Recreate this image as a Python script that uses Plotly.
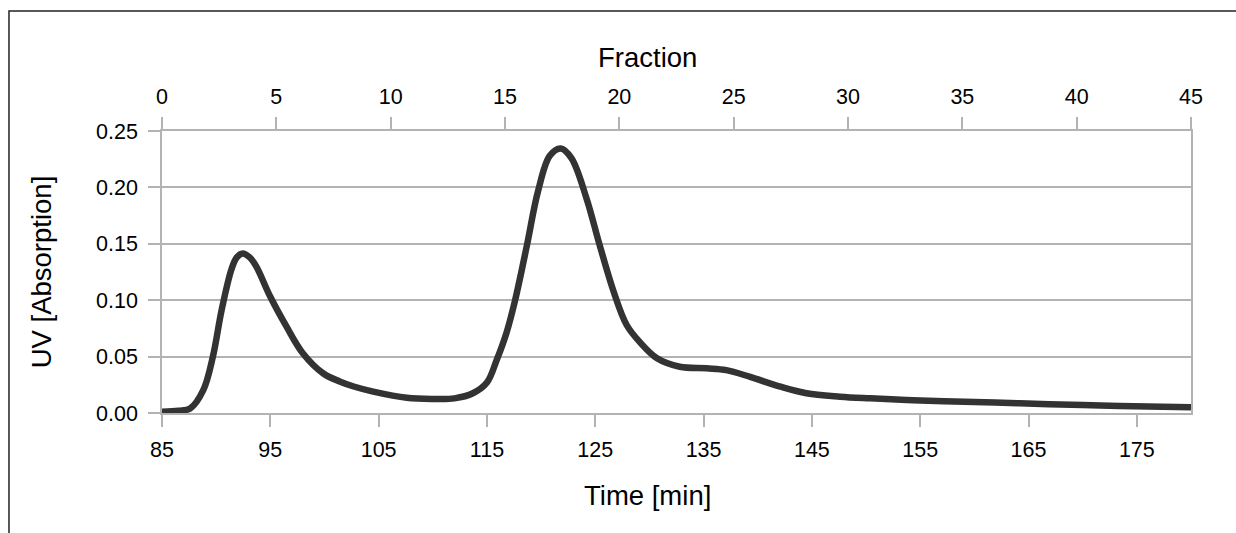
import plotly.graph_objects as go

time_min = [85, 86.5, 87.6, 88.8, 89.7, 90.5, 91.4, 91.9, 92.45, 93.1, 93.7, 95.0, 96.5, 98.0, 99.9,
            101.4, 102.7, 104.5, 107.6, 110.0, 112.0, 113.7, 115.0, 115.9, 116.8, 117.6,
            118.7, 119.7, 120.8, 121.8, 122.8, 124.2, 125.4, 126.7, 127.9, 129.1, 130.7,
            132.8, 135.3, 137.1, 139.3, 142.1, 144.5, 147.6, 150.4, 155.0, 160.0, 164.2,
            170.0, 173.4, 180.0]
uv_abs = [0.001, 0.002, 0.004, 0.020, 0.050, 0.091, 0.127, 0.138, 0.1415, 0.138, 0.130, 0.103, 0.0765, 0.053, 0.035,
          0.028, 0.0235, 0.019, 0.0135, 0.0125, 0.013, 0.0175, 0.027, 0.047, 0.071, 0.100,
          0.149, 0.196, 0.228, 0.2345, 0.226, 0.190, 0.149, 0.1075, 0.078, 0.063, 0.0485,
          0.041, 0.0396, 0.038, 0.032, 0.0233, 0.0175, 0.0145, 0.013, 0.011, 0.0097, 0.0086,
          0.007, 0.0062, 0.005]

time_ticks = [85, 95, 105, 115, 125, 135, 145, 155, 165, 175]
fraction_ticks = [0, 5, 10, 15, 20, 25, 30, 35, 40, 45]
uv_ticks = [0.00, 0.05, 0.10, 0.15, 0.20, 0.25]

GRID = "#b3b3b3"
FONT = "Liberation Sans, Arial, sans-serif"
TICK_SIZE = 21.5
TITLE_SIZE = 27.5

fig = go.Figure()
fig.add_trace(go.Scatter(x=time_min, y=uv_abs, mode="lines",
                         line=dict(color="#333333", width=6.5, shape="spline", smoothing=1.0),
                         hoverinfo="skip", showlegend=False))
# invisible trace to anchor the top Fraction axis
fig.add_trace(go.Scatter(x=[fraction_ticks[0], fraction_ticks[-1]], y=[None, None],
                         xaxis="x2", mode="lines", showlegend=False, hoverinfo="skip"))

axis_common = dict(showline=True, linecolor=GRID, linewidth=1.5, ticks="outside",
                   tickcolor=GRID, ticklen=12, tickwidth=1.5,
                   tickfont=dict(family=FONT, size=TICK_SIZE, color="#000000"))

fig.update_layout(
    width=1236, height=533,
    margin=dict(l=162, r=45, t=131, b=120),
    paper_bgcolor="white", plot_bgcolor="white",
    font=dict(family=FONT, color="#000000"),
    xaxis=dict(range=[85, 180], tickvals=time_ticks, showgrid=False, zeroline=False,
               ticklabelstandoff=4, **axis_common),
    xaxis2=dict(range=[0, 45], tickvals=fraction_ticks, overlaying="x", side="top",
                showgrid=False, zeroline=False, anchor="y", ticklabelstandoff=5,
                **axis_common),
    yaxis=dict(range=[0, 0.25], tickvals=uv_ticks, tickformat=".2f", showgrid=True,
               gridcolor=GRID, gridwidth=1.5, zeroline=False, mirror=True, ticklabelstandoff=6,
               title=dict(text="UV [Absorption]", font=dict(family=FONT, size=TITLE_SIZE), standoff=36),
               **axis_common),
    annotations=[
        dict(text="Fraction", xref="paper", yref="paper", x=0.4723, y=1.2589,
             xanchor="center", yanchor="middle", showarrow=False,
             font=dict(family=FONT, size=TITLE_SIZE, color="#000000")),
        dict(text="Time [min]", xref="paper", yref="paper", x=0.4723, y=-0.2908,
             xanchor="center", yanchor="middle", showarrow=False,
             font=dict(family=FONT, size=TITLE_SIZE, color="#000000")),
    ],
    shapes=[dict(type="path", xref="paper", yref="paper",
                 path="M -0.1487,-0.43 L -0.1487,1.4255 L 1.05,1.4255",
                 line=dict(color="#222222", width=1.5))],
)

fig.write_html("out.html")
